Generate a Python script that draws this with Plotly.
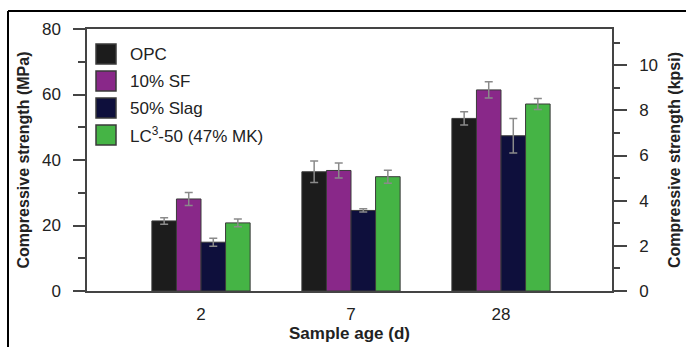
import plotly.graph_objects as go

ages = ["2", "7", "28"]
series_names = ["OPC", "10% SF", "50% Slag", "LC<sup>3</sup>-50 (47% MK)"]
series_colors = ["#1c1c1c", "#892889", "#0e0f3c", "#45b445"]
opc = [21.4, 36.4, 52.7]
opc_err = [1.0, 3.3, 2.0]
sf = [28.1, 36.8, 61.4]
sf_err = [2.0, 2.3, 2.5]
slag = [14.9, 24.6, 47.4]
slag_err = [1.2, 0.5, 5.3]
lc3 = [20.8, 34.9, 57.1]
lc3_err = [1.2, 2.0, 1.7]
values = [opc, sf, slag, lc3]
errors = [opc_err, sf_err, slag_err, lc3_err]

MPA_PER_KSI = 6.895
y_max = 80

FONT = "Liberation Sans, Arial, sans-serif"
TXT = "#222222"

fig = go.Figure()
for name, col, v, e in zip(series_names, series_colors, values, errors):
    fig.add_trace(go.Bar(
        x=ages, y=v, name=name, marker=dict(color=col, line=dict(color="#3a3a3a", width=1)),
        error_y=dict(type="data", array=e, color="#8a8a8a", thickness=1.5, width=4),
        showlegend=False,
    ))

# invisible trace to activate secondary axis
fig.add_trace(go.Scatter(x=[ages[0]], y=[0], yaxis="y2", mode="markers",
                         marker=dict(opacity=0), showlegend=False, hoverinfo="skip"))

# manual legend (boxes + labels)
L, T = 87, 29
W, H = 525, 262
def px(x):
    return (x - L) / W
def py(y):
    return (T + H - y) / H

shapes = []
annotations = []
row_tops = [44, 71, 98, 125]
for i, (name, col) in enumerate(zip(series_names, series_colors)):
    y0 = row_tops[i]
    shapes.append(dict(type="rect", xref="paper", yref="paper",
                       x0=px(96), x1=px(116), y0=py(y0 + 20), y1=py(y0),
                       fillcolor=col, line=dict(color="#3a3a3a", width=1.5)))
    annotations.append(dict(xref="paper", yref="paper", x=px(128), y=py(y0 + 10),
                            text=name, showarrow=False, xanchor="left", yanchor="middle",
                            font=dict(family=FONT, size=17, color=TXT)))

# outer frame lines (top and left)
shapes.append(dict(type="line", xref="paper", yref="paper", x0=px(8), x1=px(700),
                   y0=py(11), y1=py(11), line=dict(color="black", width=2)))
shapes.append(dict(type="line", xref="paper", yref="paper", x0=px(8), x1=px(8),
                   y0=py(11), y1=py(360), line=dict(color="black", width=2)))

fig.update_layout(
    width=686, height=347,
    margin=dict(l=L, r=686 - L - W, t=T, b=347 - T - H),
    paper_bgcolor="white", plot_bgcolor="white",
    barmode="group", bargap=0.345, bargroupgap=0,
    font=dict(family=FONT, size=16, color=TXT),
    shapes=shapes, annotations=annotations,
    xaxis=dict(
        type="category", range=[-0.76, 2.74], automargin=False,
        showline=True, linecolor="#444", linewidth=1.5, mirror=True,
        ticks="", tickfont=dict(size=17, color=TXT), ticklabelstandoff=7,
        title=dict(text="<b>Sample age (d)</b>", font=dict(size=17, color=TXT), standoff=4),
        showgrid=False, zeroline=False,
    ),
    yaxis=dict(
        range=[0, y_max], tickvals=[0, 20, 40, 60, 80], automargin=False,
        showline=True, linecolor="#444", linewidth=1.5,
        ticks="outside", ticklen=12, tickwidth=1.5, tickcolor="#444",
        minor=dict(tickvals=[10, 30, 50, 70], ticks="outside", ticklen=7, tickwidth=1.5, tickcolor="#444"),
        tickfont=dict(size=17, color=TXT), ticklabelstandoff=9,
        title=dict(text="<b>Compressive strength (MPa)</b>", font=dict(size=16, color=TXT), standoff=8),
        showgrid=False, zeroline=False,
    ),
    yaxis2=dict(
        overlaying="y", side="right", range=[0, y_max / MPA_PER_KSI], automargin=False,
        tickvals=[0, 2, 4, 6, 8, 10],
        showline=True, linecolor="#444", linewidth=1.5,
        ticks="outside", ticklen=13, tickwidth=1.5, tickcolor="#444",
        minor=dict(tickvals=[1, 3, 5, 7, 9, 11], ticks="outside", ticklen=6, tickwidth=1.5, tickcolor="#444"),
        tickfont=dict(size=17, color=TXT), ticklabelstandoff=9,
        title=dict(text="<b>Compressive strength (kpsi)</b>", font=dict(size=16, color=TXT), standoff=12),
        showgrid=False, zeroline=False,
    ),
)

fig.write_html("out.html")
